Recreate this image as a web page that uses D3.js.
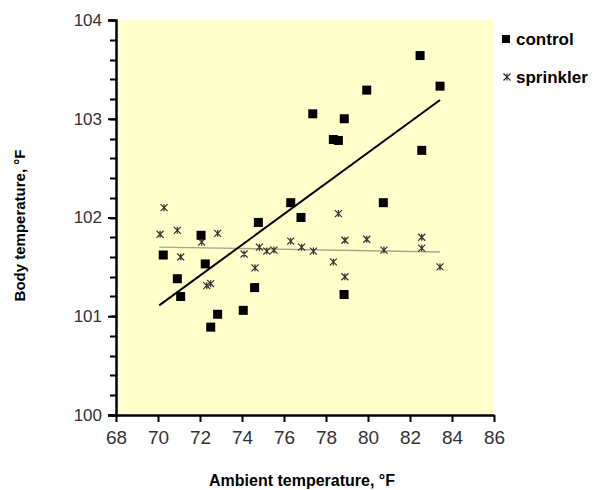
<!DOCTYPE html>
<html>
<head>
<meta charset="utf-8">
<script src="https://cdn.jsdelivr.net/npm/d3@7"></script>
<style>
  body { margin: 0; background: #fff; }
  text { font-family: Arial, "Liberation Sans", sans-serif; }
</style>
</head>
<body>
<svg width="604" height="490"></svg>
<script>
// control group (squares)
var controlX = [70.25, 70.92, 71.08, 72.05, 72.25, 72.51, 72.84, 74.06, 74.6, 74.78, 76.32, 76.81, 77.37, 78.35, 78.59, 78.87, 78.86, 79.94, 80.73, 82.48, 82.56, 83.43];
var controlY = [101.62, 101.38, 101.2, 101.82, 101.53, 100.89, 101.02, 101.06, 101.29, 101.95, 102.15, 102.0, 103.05, 102.79, 102.78, 103.0, 101.22, 103.29, 102.15, 103.64, 102.68, 103.33];

// sprinkler group (stars)
var sprinklerX = [70.1, 70.29, 70.92, 71.08, 72.08, 72.32, 72.51, 72.84, 74.1, 74.62, 74.83, 75.18, 75.52, 76.32, 76.84, 77.4, 78.35, 78.59, 78.9, 78.9, 79.94, 80.76, 82.56, 82.56, 83.43];
var sprinklerY = [101.83, 102.1, 101.87, 101.6, 101.75, 101.31, 101.33, 101.84, 101.63, 101.49, 101.7, 101.66, 101.67, 101.76, 101.7, 101.66, 101.55, 102.04, 101.77, 101.4, 101.78, 101.67, 101.8, 101.69, 101.5];

// trend line end points
var controlTrend = [[70.06, 101.11], [83.43, 103.19]];
var sprinklerTrend = [[70.06, 101.7], [83.43, 101.65]];

var xTicks = [68, 70, 72, 74, 76, 78, 80, 82, 84, 86];
var yTicks = [100, 101, 102, 103, 104];
var legendNames = ["control", "sprinkler"];

var svg = d3.select("svg");
var pLeft = 116, pRight = 494, pTop = 20, pBottom = 415;

var x = d3.scaleLinear().domain([68, 86]).range([pLeft, pRight]);
var y = d3.scaleLinear().domain([100, 104]).range([pBottom, pTop]);

// plot background
svg.append("rect")
    .attr("x", pLeft).attr("y", pTop)
    .attr("width", pRight - pLeft).attr("height", pBottom - pTop)
    .attr("fill", "#ffffcc");

// y axis
var yAxis = svg.append("g")
    .attr("transform", "translate(" + pLeft + ",0)")
    .call(d3.axisLeft(y).tickValues(yTicks).tickSize(8).tickPadding(6).tickFormat(d3.format("d")));
yAxis.select(".domain").attr("stroke-width", 2.5);
yAxis.selectAll(".tick line").attr("stroke-width", 2);
yAxis.selectAll("text").attr("font-size", 17).attr("fill", "#333").attr("font-family", "Arial, 'Liberation Sans', sans-serif");

// minor y ticks every 0.2
var minorY = d3.range(0, 21).map(function (i) { return 100 + i * 0.2; });
svg.append("g").selectAll("line")
    .data(minorY)
    .enter()
    .append("line")
    .attr("x1", pLeft - 6).attr("x2", pLeft)
    .attr("y1", function (d) { return Math.round(y(d)) + 0.5; })
    .attr("y2", function (d) { return Math.round(y(d)) + 0.5; })
    .style("stroke", "#000").style("stroke-width", "2px");

// x axis
var xAxis = svg.append("g")
    .attr("transform", "translate(0," + pBottom + ")")
    .call(d3.axisBottom(x).tickValues(xTicks).tickSize(7).tickSizeOuter(0).tickPadding(9));
xAxis.select(".domain").attr("stroke-width", 2.5);
xAxis.selectAll(".tick line").attr("stroke-width", 2);
xAxis.selectAll("text").attr("font-size", 19).attr("fill", "#333").attr("font-family", "'Liberation Sans Narrow', 'Arial Narrow', Arial, sans-serif");

// trend lines
var line = d3.line()
    .x(function (d) { return x(d[0]); })
    .y(function (d) { return y(d[1]); });

svg.append("path")
    .datum(sprinklerTrend)
    .attr("d", line)
    .attr("stroke", "#a8a890").attr("stroke-width", 1.5).attr("fill", "none");

svg.append("path")
    .datum(controlTrend)
    .attr("d", line)
    .attr("stroke", "#000").attr("stroke-width", 2).attr("fill", "none");

// star marker
function star(g, cx, cy) {
    var s = 3.5;
    g.append("path")
        .attr("d", "M" + (cx - s) + "," + (cy - s) + "L" + (cx + s) + "," + (cy + s) +
                   "M" + (cx + s) + "," + (cy - s) + "L" + (cx - s) + "," + (cy + s) +
                   "M" + cx + "," + (cy - s) + "L" + cx + "," + (cy + s))
        .attr("stroke", "#333").attr("stroke-width", 1.2).attr("fill", "none");
}

var sprinklerData = sprinklerX.map(function (v, i) { return [v, sprinklerY[i]]; });
var sg = svg.append("g");
sprinklerData.forEach(function (d) { star(sg, x(d[0]), y(d[1])); });

var controlData = controlX.map(function (v, i) { return [v, controlY[i]]; });
svg.selectAll(".ctrl")
    .data(controlData)
    .enter()
    .append("rect")
    .attr("x", function (d) { return x(d[0]) - 4.5; })
    .attr("y", function (d) { return y(d[1]) - 4.5; })
    .attr("width", 9).attr("height", 9)
    .attr("fill", "#000");

// legend
svg.append("rect").attr("x", 502).attr("y", 35).attr("width", 8).attr("height", 8).attr("fill", "#000");
svg.append("text").attr("x", 516).attr("y", 45).attr("font-size", 17).attr("font-weight", "bold").text(legendNames[0]);
star(svg, 507, 77);
svg.append("text").attr("x", 516).attr("y", 83).attr("font-size", 17).attr("font-weight", "bold").text(legendNames[1]);

// axis titles
svg.append("text")
    .attr("x", (pLeft + pRight) / 2 - 3).attr("y", 486)
    .attr("text-anchor", "middle")
    .attr("font-size", 16).attr("font-weight", "bold")
    .text("Ambient temperature, °F");

svg.append("text")
    .attr("transform", "translate(25," + ((pTop + pBottom) / 2 + 8) + ") rotate(-90)")
    .attr("text-anchor", "middle")
    .attr("font-size", 15).attr("font-weight", "bold")
    .text("Body temperature, °F");
</script>
</body>
</html>
